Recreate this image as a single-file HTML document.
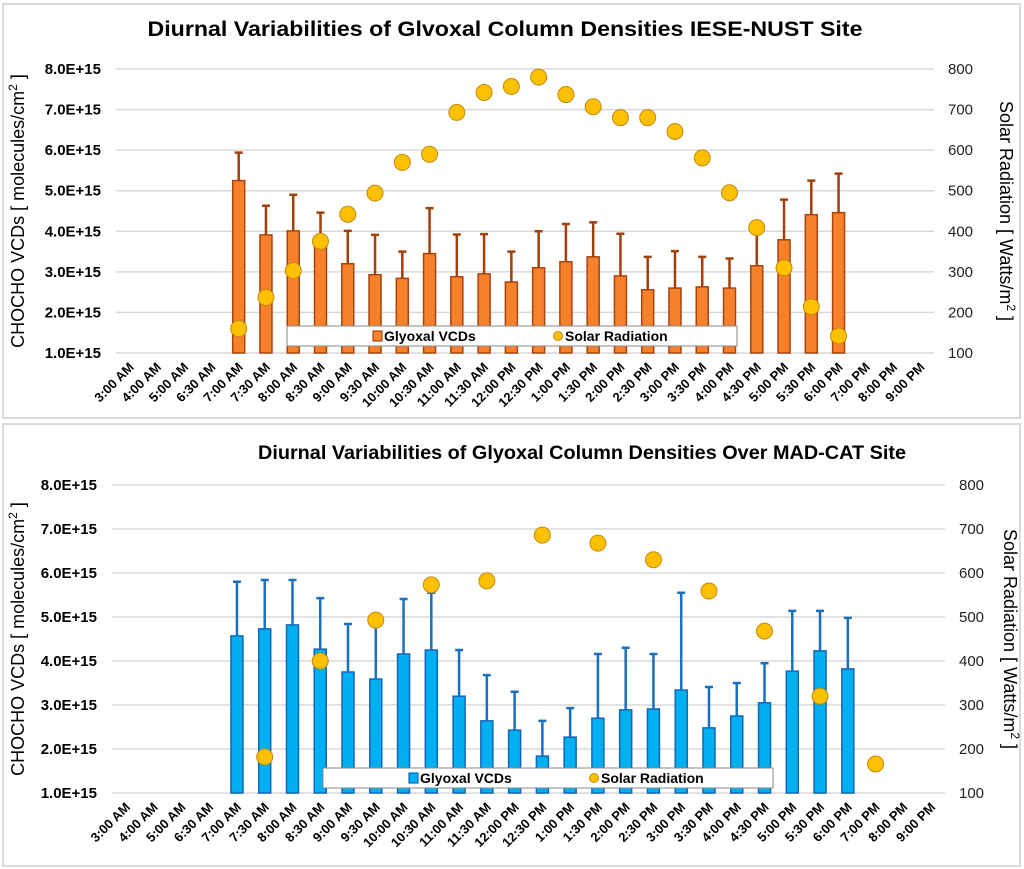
<!DOCTYPE html>
<html><head><meta charset="utf-8"><style>
html,body{margin:0;padding:0;background:#fff;}
svg{display:block;font-family:"Liberation Sans",sans-serif;}
</style></head><body>
<svg id="chart" width="1024" height="869" viewBox="0 0 1024 869" xmlns="http://www.w3.org/2000/svg">
<rect x="3" y="4" width="1017" height="414" fill="#fff" stroke="#d9d9d9" stroke-width="2"/>
<rect x="3" y="424" width="1017" height="442" fill="#fff" stroke="#d9d9d9" stroke-width="2"/>
<text x="505" y="36" text-anchor="middle" font-size="21" font-weight="bold" textLength="715" lengthAdjust="spacingAndGlyphs">Diurnal Variabilities of Glvoxal Column Densities IESE-NUST Site</text>
<text x="582" y="459" text-anchor="middle" font-size="19" font-weight="bold" textLength="648" lengthAdjust="spacingAndGlyphs">Diurnal Variabilities of Glyoxal Column Densities Over MAD-CAT Site</text>
<g id="top"></g><g id="bottom"></g>
</svg>
<script>
const categories = ["3:00 AM","4:00 AM","5:00 AM","6:30 AM","7:00 AM","7:30 AM","8:00 AM","8:30 AM","9:00 AM","9:30 AM","10:00 AM","10:30 AM","11:00 AM","11:30 AM","12:00 PM","12:30 PM","1:00 PM","1:30 PM","2:00 PM","2:30 PM","3:00 PM","3:30 PM","4:00 PM","4:30 PM","5:00 PM","5:30 PM","6:00 PM","7:00 PM","8:00 PM","9:00 PM"];
const leftTicks = ["1.0E+15","2.0E+15","3.0E+15","4.0E+15","5.0E+15","6.0E+15","7.0E+15","8.0E+15"];
const rightTicks = ["100","200","300","400","500","600","700","800"];
// values in units of 1E15 molecules/cm2; null = no data
const topVcd = [null,null,null,null,5.25,3.91,4.01,3.75,3.2,2.93,2.84,3.45,2.88,2.95,2.75,3.1,3.25,3.37,2.9,2.56,2.6,2.63,2.6,3.15,3.79,4.41,4.46,null,null,null];
const topErr = [null,null,null,null,5.94,4.63,4.9,4.46,4.01,3.91,3.5,4.57,3.92,3.93,3.5,4.0,4.18,4.22,3.94,3.37,3.51,3.37,3.33,4.0,4.78,5.25,5.42,null,null,null];
const topSolar = [null,null,null,null,160,237,303,375,442,494,570,590,693,742,757,780,737,707,680,680,646,581,495,409,310,214,142,null,null,null];
const botVcd = [null,null,null,null,4.57,4.73,4.82,4.27,3.75,3.59,4.16,4.25,3.2,2.64,2.43,1.84,2.27,2.7,2.89,2.91,3.34,2.48,2.75,3.05,3.77,4.23,3.82,null,null,null];
const botErr = [null,null,null,null,5.8,5.84,5.84,5.43,4.84,4.9,5.41,5.55,4.25,3.68,3.3,2.64,2.93,4.16,4.3,4.16,5.55,3.41,3.5,3.95,5.14,5.14,4.98,null,null,null];
const botSolar = [null,null,null,null,null,182,null,400,null,493,null,573,null,582,null,686,null,668,null,630,null,559,null,468,null,320,null,166,null,null];

const NS="http://www.w3.org/2000/svg";
function mk(parent,tag,attrs){const e=document.createElementNS(NS,tag);for(const k in attrs)e.setAttribute(k,attrs[k]);parent.appendChild(e);return e;}

function drawPanel(g,cfg){
  const L=cfg.left,R=cfg.right,Y1=cfg.y1,Y8=cfg.y8;
  const step=(R-L)/categories.length;
  const xc=i=>L+(i+0.5)*step;
  const yv=v=>Y1-(v-1)*(Y1-Y8)/7;
  const ys=s=>Y1-(s-100)*(Y1-Y8)/700;
  leftTicks.forEach((t,i)=>{
    const y=yv(i+1);
    const gl=mk(g,'line',{x1:L,x2:R,y1:y,y2:y,stroke:'#d9d9d9','stroke-width':1.5});
    
    
    const tl=mk(g,'text',{x:L-15,y:y+5,'text-anchor':'end','font-size':15,'font-weight':'bold'});
    tl.textContent=t;
    
    
    const tr=mk(g,'text',{x:R+14,y:y+5,'font-size':15,fill:'#222'});
    tr.textContent=rightTicks[i];
    
    
  });
  categories.forEach((c,i)=>{
    const x=xc(i)+5,y=Y1+15;
    const t=mk(g,'text',{x:x,y:y,'text-anchor':'end','font-size':13,'font-weight':'bold',transform:`rotate(-45 ${x} ${y})`});
    t.textContent=c;
    
    
  });
  const bw=12;
  cfg.vcd.forEach((v,i)=>{
    if(v==null)return;
    const x=xc(i);
    const b=mk(g,'rect',{x:x-bw/2,y:yv(v),width:bw,height:Y1-yv(v),fill:cfg.fill,stroke:cfg.stroke,'stroke-width':1.5});
    
    
    const e=cfg.err[i];
    if(e!=null){
      const l=mk(g,'path',{d:`M${x} ${yv(v)}V${yv(e)}M${x-4} ${yv(e)}H${x+4}`,stroke:cfg.errc,'stroke-width':2.5,fill:'none'});
      
      
    }
  });
  cfg.solar.forEach((s,i)=>{
    if(s==null)return;
    const d=mk(g,'circle',{cx:xc(i),cy:ys(s),r:8,fill:'#ffc000',stroke:'#c08a10','stroke-width':1});
    
    
  });
  const lg=mk(g,'g',{});
  
  
  mk(lg,'rect',{x:cfg.lx,y:cfg.ly,width:450,height:20,fill:'#fff',stroke:'#888','stroke-width':1});
  mk(lg,'rect',{x:cfg.lx+86,y:cfg.ly+5,width:9,height:10,fill:cfg.fill,stroke:cfg.stroke,'stroke-width':1.2});
  const t1=mk(lg,'text',{x:cfg.lx+97,y:cfg.ly+15,'font-size':14,'font-weight':'bold'});t1.textContent='Glyoxal VCDs';
  
  
  mk(lg,'circle',{cx:cfg.lx+271,cy:cfg.ly+10,r:4.5,fill:'#ffc000',stroke:'#c08a10'});
  const t2=mk(lg,'text',{x:cfg.lx+278,y:cfg.ly+15,'font-size':14,'font-weight':'bold'});t2.textContent='Solar Radiation';
  
  
  const my=(Y1+Y8)/2;
  const at=mk(g,'text',{x:cfg.ltx,y:my,'text-anchor':'middle','font-size':18,transform:`rotate(-90 ${cfg.ltx} ${my})`});
  at.innerHTML='CHOCHO  VCDs [ molecules/cm<tspan font-size="12" dy="-7">2</tspan><tspan dy="7"> ]</tspan>';
  
  
  const rt=mk(g,'text',{x:cfg.rtx,y:my,'text-anchor':'middle','font-size':18,transform:`rotate(90 ${cfg.rtx} ${my})`});
  rt.innerHTML='Solar Radiation [ Watts/m<tspan font-size="12" dy="-7">2</tspan><tspan dy="7"> ]</tspan>';
  
  
}
drawPanel(document.getElementById('top'),{left:116,right:934,y1:353,y8:69,vcd:topVcd,err:topErr,solar:topSolar,fill:'#f7812a',stroke:'#a84410',errc:'#a0400a',lx:287,ly:326,ltx:24,rtx:1000});
drawPanel(document.getElementById('bottom'),{left:112,right:945,y1:793,y8:485,vcd:botVcd,err:botErr,solar:botSolar,fill:'#00b0f0',stroke:'#1565b8',errc:'#1a70c0',lx:323,ly:768,ltx:24,rtx:1004});
</script>
</body></html>
